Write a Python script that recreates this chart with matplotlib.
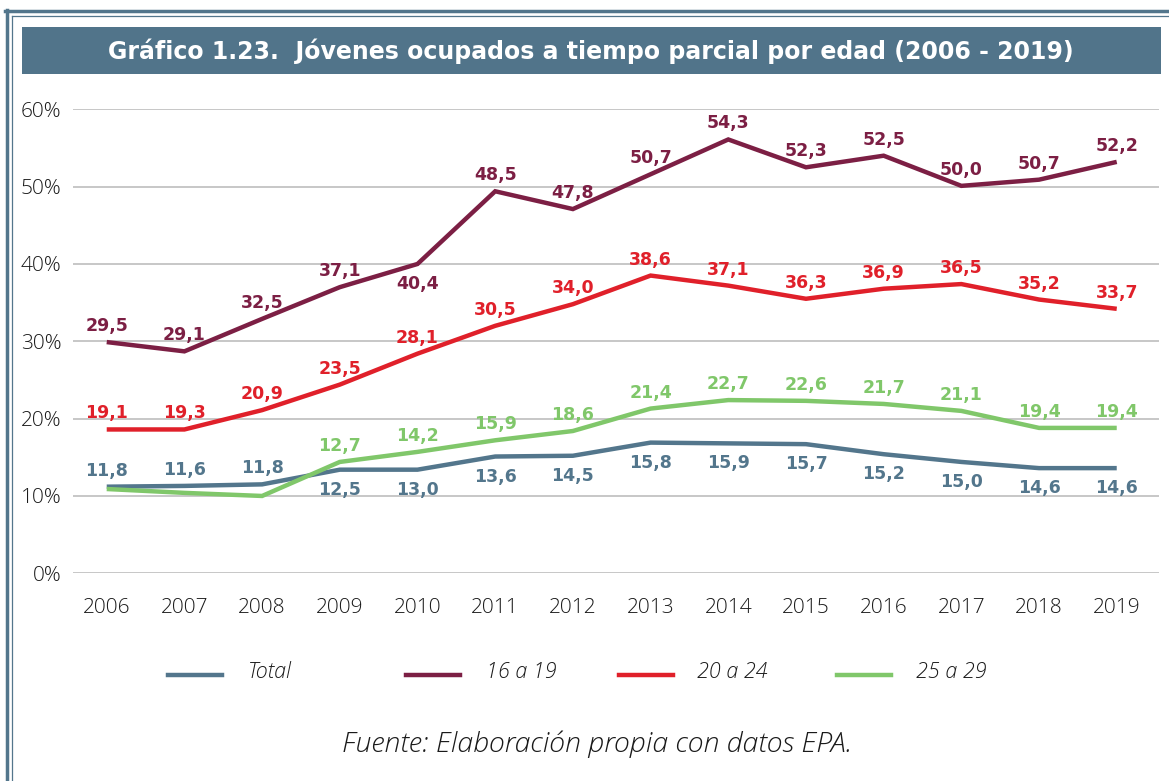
'''
Jóvenes ocupados a tiempo parcial por edad (2006 - 2019), EPA.
'''

import matplotlib.pyplot as plt
from matplotlib.lines import Line2D
from matplotlib.patches import Rectangle

years = list(range(2006, 2020))

# line positions as drawn in the source chart (%)
total = [11.2, 11.3, 11.5, 13.4, 13.4, 15.1, 15.2, 16.9, 16.8, 16.7, 15.4, 14.4, 13.6, 13.6]
g16_19 = [29.9, 28.7, 32.9, 37.0, 40.0, 49.4, 47.1, 51.6, 56.1, 52.5, 54.0, 50.1, 50.9, 53.2]
g20_24 = [18.6, 18.6, 21.1, 24.4, 28.4, 32.0, 34.8, 38.5, 37.2, 35.5, 36.8, 37.4, 35.4, 34.2]
g25_29 = [10.9, 10.4, 10.0, 14.4, 15.7, 17.2, 18.4, 21.3, 22.4, 22.3, 21.9, 21.0, 18.8, 18.8]

# printed data labels (green has none for 2006-2008)
lab_total = ['11,8', '11,6', '11,8', '12,5', '13,0', '13,6', '14,5', '15,8', '15,9', '15,7', '15,2', '15,0', '14,6', '14,6']
lab_16_19 = ['29,5', '29,1', '32,5', '37,1', '40,4', '48,5', '47,8', '50,7', '54,3', '52,3', '52,5', '50,0', '50,7', '52,2']
lab_20_24 = ['19,1', '19,3', '20,9', '23,5', '28,1', '30,5', '34,0', '38,6', '37,1', '36,3', '36,9', '36,5', '35,2', '33,7']
lab_25_29 = ['', '', '', '12,7', '14,2', '15,9', '18,6', '21,4', '22,7', '22,6', '21,7', '21,1', '19,4', '19,4']

yticks = [0, 10, 20, 30, 40, 50, 60]
names = ['Total', '16 a 19', '20 a 24', '25 a 29']

slate = '#53768c'
maroon = '#7c1f44'
red = '#e0202a'
green = '#80c76a'
grid_c = '#c3c3c3'
txt = '#1a1a1a'
light_font = dict(family='Open Sans', fontweight='light')

W, H = 1169, 781
fig = plt.figure(figsize=(W / 100, H / 100), dpi=100)

def px(x, y):
    return x / W, 1 - y / H

# frame lines and title band
fig.add_artist(Line2D([px(5, 0)[0], 1], [px(0, 11)[1]] * 2, color=slate, lw=2.5))
fig.add_artist(Line2D([px(12, 0)[0], 1], [px(0, 15.5)[1]] * 2, color=slate, lw=0.9))
fig.add_artist(Line2D([px(6.5, 0)[0]] * 2, [0, px(0, 10)[1]], color=slate, lw=2.5))
fig.add_artist(Line2D([px(11.5, 0)[0]] * 2, [0, px(0, 15.5)[1]], color=slate, lw=0.9))
fig.add_artist(Rectangle(px(22, 74), (1161 - 22) / W, (74 - 27) / H, color='#51748a', lw=0))
fig.text(px(591, 0)[0], px(0, 51)[1], 'Gráfico 1.23.  Jóvenes ocupados a tiempo parcial por edad (2006 - 2019)',
         ha='center', va='center', color='white', fontsize=17, fontweight='bold', family='DejaVu Sans')

ax = fig.add_axes([72.7 / W, 1 - 573.3 / H, (1159 - 72.7) / W, (573.3 - 109.3) / H])
ax.set_xlim(2005.562, 2019.544)
ax.set_ylim(0, 60)
for s in ax.spines.values():
    s.set_visible(False)
ax.set_yticks(yticks)
ax.set_yticklabels([f'{t}%' for t in yticks])
ax.set_xticks(years)
ax.set_xticklabels([str(y) for y in years])
ax.tick_params(length=0, labelsize=15, labelcolor=txt)
ax.tick_params(axis='y', pad=8)
ax.tick_params(axis='x', pad=18)
for t in ax.get_xticklabels() + ax.get_yticklabels():
    t.set_family('Open Sans')
    t.set_fontweight('light')
ax.grid(axis='y', color=grid_c, lw=1.3)
ax.set_axisbelow(True)

series = [(total, slate), (g16_19, maroon), (g20_24, red), (g25_29, green)]
for vals, col in series:
    ax.plot(years, vals, color=col, lw=3.2, solid_joinstyle='miter', solid_capstyle='butt')

# data labels: above the line, or below for the indexes given
def put(vals, labs, col, below=()):
    for i, (y, v, l) in enumerate(zip(years, vals, labs)):
        if not l:
            continue
        off = -20 if i in below else 16
        ax.annotate(l, (y, v), xytext=(0, off), textcoords='offset pixels', ha='center', va='center',
                    color=col, fontsize=12.5, fontweight='bold', family='DejaVu Sans')

put(total, lab_total, slate, below=range(3, 14))
put(g16_19, lab_16_19, maroon, below=(4,))
put(g20_24, lab_20_24, red)
put(g25_29, lab_25_29, green)

# legend drawn by hand to match spacing
leg_x = [(168, 222, 248), (406, 460, 486), (619, 673, 697), (837, 891, 916)]
for (x0, x1, xt), name, col in zip(leg_x, names, [slate, maroon, red, green]):
    fig.add_artist(Line2D([x0 / W, x1 / W], [px(0, 675)[1]] * 2, color=col, lw=3.2))
    fig.text(xt / W, px(0, 672)[1], name, ha='left', va='center', fontsize=15.5,
             style='italic', color=txt, **light_font)

fig.text(px(597, 0)[0], px(0, 744)[1], 'Fuente: Elaboración propia con datos EPA.', ha='center', va='center',
         fontsize=20.5, style='italic', color=txt, **light_font)

fig.savefig('out.png', dpi=100)
